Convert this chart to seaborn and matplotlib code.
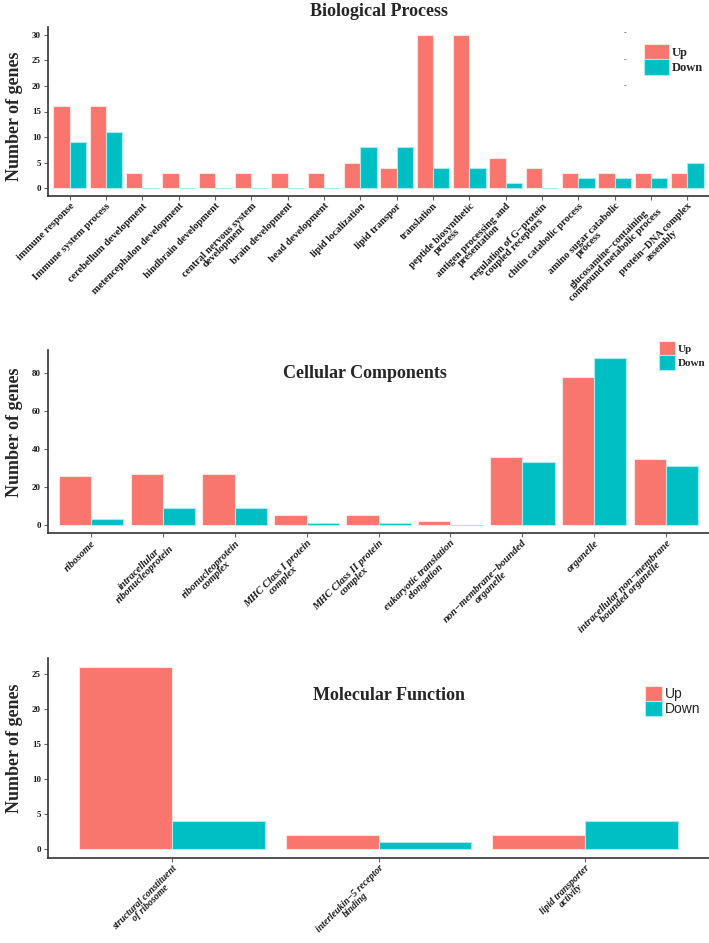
import pandas as pd
import matplotlib.pyplot as plt
import seaborn as sns

# GO enrichment counts: Up / Down regulated genes per term
bp_terms = ["immune response", "Immune system process", "cerebellum development",
            "metencephalon development", "hindbrain development",
            "central nervous system\ndevelopment", "brain development", "head development",
            "lipid localization", "lipid transpor", "translation",
            "peptide biosynthetic\nprocess", "antigen processing and\npresentation",
            "regulation of G\u2212protein\ncoupled receptors", "chitin catabolic process",
            "amino sugar catabolic\nprocess",
            "glucosamine\u2212containing\ncompound metabolic process",
            "protein\u2212DNA complex\nassembly"]
bp_up = [16, 16, 3, 3, 3, 3, 3, 3, 5, 4, 30, 30, 6, 4, 3, 3, 3, 3]
bp_down = [9, 11, 0, 0, 0, 0, 0, 0, 8, 8, 4, 4, 1, 0, 2, 2, 2, 5]

cc_terms = ["ribosome", "intracellular\nribonucleoprotein", "ribonucleoprotein\ncomplex",
            "MHC Class I protein\ncomplex", "MHC Class II protein\ncomplex",
            "eukaryotic translation\nelongation", "non\u2212membrane\u2212bounded\norganelle",
            "organelle", "intracellular non\u2212membrane\nbounded organelle"]
cc_up = [26, 27, 27, 5, 5, 2, 36, 78, 35]
cc_down = [3, 9, 9, 1, 1, 0, 33, 88, 31]

mf_terms = ["structural constituent\nof ribosome", "interleukin\u22125 receptor\nbinding",
            "lipid transporter\nactivity"]
mf_up = [26, 2, 2]
mf_down = [4, 1, 4]

directions = ["Up", "Down"]
palette = {"Up": "#F8766D", "Down": "#00BFC4"}
edges = {"Up": "#fde3e0", "Down": "#a6eaec"}

sns.set_theme(style="ticks")
plt.rcParams["font.family"] = ["Liberation Serif", "DejaVu Serif"]
plt.rcParams["font.weight"] = "bold"

W, H = 709, 943
fig = plt.figure(figsize=(W / 100, H / 100), dpi=100)


def rect(left, top, right, bottom):
    return [left / W, 1 - bottom / H, (right - left) / W, (bottom - top) / H]


def long_df(terms, up, down):
    rows = []
    for t, u, d in zip(terms, up, down):
        rows.append((t, "Up", u))
        rows.append((t, "Down", d))
    return pd.DataFrame(rows, columns=["term", "dir", "count"])


def panel(box, terms, up, down, yticks, ymax, label_style, label_size, ylab_y,
          leg_xy, leg_font, leg_size, handle_w, handle_h):
    ax = fig.add_axes(rect(*box))
    df = long_df(terms, up, down)
    sns.barplot(data=df, x="term", y="count", hue="dir", hue_order=directions,
                palette=palette, saturation=1, width=0.9, gap=0, errorbar=None,
                ax=ax, zorder=2)
    n = len(terms)
    for i, p in enumerate(ax.patches):
        d = "Up" if i < n else "Down"
        p.set_edgecolor(edges[d])
        p.set_linewidth(0.8)
    ax.set_xlim(-0.6, n - 0.4)
    ax.set_ylim(-0.05 * ymax, 1.05 * ymax)
    ax.set_yticks(yticks)
    ax.set_yticklabels([str(v) for v in yticks], fontsize=6.5, fontweight="bold")
    ax.set_xticks(range(n))
    ax.set_xticklabels(terms, rotation=45, ha="right", va="top", rotation_mode="anchor",
                       ma="center", fontsize=label_size, fontweight="bold",
                       fontstyle=label_style, linespacing=0.88)
    ax.tick_params(axis="both", length=3, width=0.8, color="#666666",
                   labelcolor="#1a1a1a", pad=2)
    ax.tick_params(axis="x", pad=1)
    for s in ["top", "right"]:
        ax.spines[s].set_visible(False)
    for s in ["left", "bottom"]:
        ax.spines[s].set_color("#333333")
        ax.spines[s].set_linewidth(1.2)
    ax.set_xlabel("")
    ax.set_ylabel("Number of genes", fontsize=13, fontweight="bold")
    ax.yaxis.set_label_coords((23 - box[0]) / (box[2] - box[0]), ylab_y)
    handles, labels = ax.get_legend_handles_labels()
    for h in handles:
        h.set_edgecolor(edges.get(h.get_label(), "none"))
    ax.legend(handles, labels, loc="upper left",
              bbox_to_anchor=(leg_xy[0] / W, 1 - leg_xy[1] / H),
              bbox_transform=fig.transFigure, frameon=False, borderpad=0,
              borderaxespad=0, labelspacing=0.0, handletextpad=0.25,
              handlelength=handle_w, handleheight=handle_h,
              prop={"family": leg_font, "size": leg_size,
                    "weight": "bold" if "Serif" in leg_font[0] else "normal"})
    return ax


ax1 = panel((48, 27, 709, 196), bp_terms, bp_up, bp_down, [0, 5, 10, 15, 20, 25, 30], 30,
            "normal", 7.4, 0.47, (644, 44), ["Liberation Serif"], 9, 2.0, 1.5)
ax2 = panel((48, 350, 709, 533), cc_terms, cc_up, cc_down, [0, 20, 40, 60, 80], 88,
            "italic", 7.6, 0.55, (659, 341), ["Liberation Serif"], 8, 1.4, 1.6)
ax3 = panel((48, 658, 709, 858), mf_terms, mf_up, mf_down, [0, 5, 10, 15, 20, 25], 26,
            "italic", 7.0, 0.55, (645, 686), ["Liberation Sans Narrow", "Liberation Sans"],
            10, 1.2, 1.3)

fig.text(379 / W, 1 - 11 / H, "Biological Process", ha="center", va="center",
         fontsize=13, fontweight="bold")
fig.text(365 / W, 1 - 373 / H, "Cellular Components", ha="center", va="center",
         fontsize=13, fontweight="bold")
fig.text(389 / W, 1 - 696 / H, "Molecular Function", ha="center", va="center",
         fontsize=13, fontweight="bold")

# small stray dashes next to the first legend, as in the original figure
for yy in [33, 60, 86]:
    fig.text(625 / W, 1 - yy / H, "-", ha="center", va="center", fontsize=6,
             color="#666666")

fig.savefig("out.png", dpi=100)
